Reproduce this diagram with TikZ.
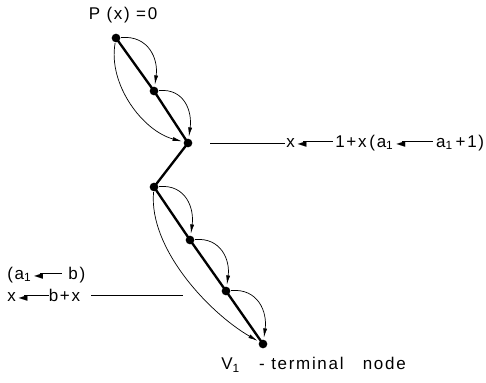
\documentclass[tikz,border=0pt]{standalone}
\usepackage{fontspec}
\setmainfont[LetterSpace=10]{Liberation Sans}
\newfontfamily\symfont{DejaVu Sans}
\usetikzlibrary{arrows.meta}

% arrow used inside the labels
\newcommand{\tarr}[1]{{\symfont\fontsize{10}{10}\selectfont ◄}\kern-3pt\rule[0.3em]{#1}{0.8pt}}

\begin{document}
\begin{tikzpicture}[
  x=0.03cm, y=0.03cm,
  font=\fontsize{14.5}{16}\selectfont,
  dot/.style={circle, fill, inner sep=0pt, minimum size=2.6mm},
  spine/.style={line width=2pt},
  hop/.style={line width=0.6pt, -{Latex[length=2.8mm,width=1.2mm]}, shorten >=1.5pt, shorten <=0.5pt},
  lbl/.style={inner sep=1pt, anchor=west}
]
  \useasboundingbox (0,0) rectangle (486,382);

  \node[dot] (v1) at (116,344) {};
  \node[dot] (v2) at (154,291) {};
  \node[dot] (v3) at (188,239) {};
  \node[dot] (v4) at (154,195) {};
  \node[dot] (v5) at (190,142) {};
  \node[dot] (v6) at (226,91) {};
  \node[dot] (v7) at (263,38) {};

  \draw[spine] (v1.center) -- (v2.center) -- (v3.center) -- (v4.center)
    -- (v5.center) -- (v6.center) -- (v7.center);

  % short hops
  \foreach \a/\b in {v1/v2, v2/v3, v4/v5, v5/v6, v6/v7}
    \draw[hop] (\a) to[out=5, in=82, looseness=1.2] (\b);
  % long hops
  \draw[hop] (v1) to[out=-100, in=165, looseness=0.9] (v3);
  \draw[hop] (v4) to[out=-95, in=150, looseness=0.8] (v7);

  \node (top) at (123,367) {P (x) =0};
  \node[lbl] (rlab) at (285,239) {x\,\tarr{25pt}\,1+x\,(a\textsubscript{1}\,\tarr{27pt}\,a\textsubscript{1}\,+1)};
  \coordinate (rend) at (210,239);
  \draw[line width=0.6pt] (rend) -- (rlab.west);

  \node[lbl] (lab1) at (6,107) {(a\textsubscript{1}\,\tarr{19pt}\ b)};
  \node[lbl] (lab2) at (6,87) {x\,\tarr{21pt}b+x};
  \coordinate (lend) at (183,87);
  \draw[line width=0.6pt] (lab2.east) ++(10,0) coordinate (lstart) (lstart) -- (lend);

  \node[lbl] (term) at (220,17) {V\textsubscript{1}\ \ \ - terminal\ \ \ node};
\end{tikzpicture}
\end{document}
